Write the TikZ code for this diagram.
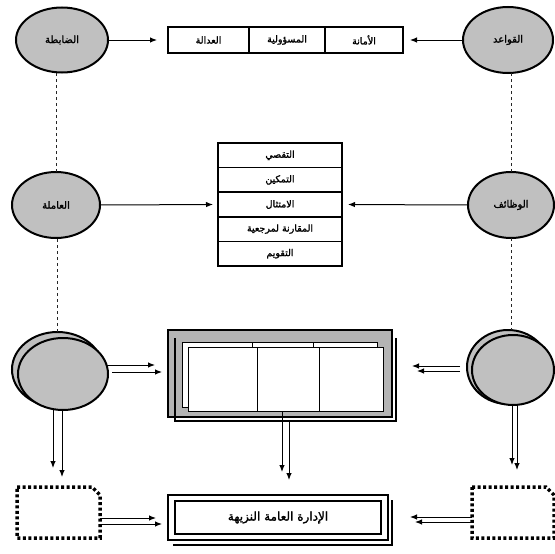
\documentclass[tikz,border=0pt]{standalone}
\usepackage{fontspec}
\usetikzlibrary{shapes.geometric,arrows.meta,calc}
\newfontfamily\ar[Script=Arabic, FakeBold=1.6]{DejaVu Sans}
\TeXXeTstate=1
\definecolor{ellgray}{RGB}{192,192,192}
\definecolor{boxgray}{RGB}{180,180,180}
\tikzset{
  ell/.style={ellipse, draw=black, line width=2pt, fill=ellgray, inner sep=0pt, outer sep=0pt,
    font=\ar\fontsize{10}{12}\selectfont},
  cell/.style={draw=black, line width=1.5pt, inner sep=0pt, outer sep=0pt, fill=white,
    font=\ar\fontsize{9.5}{11}\selectfont},
  arr/.style={-{Latex[length=7pt,width=5.5pt]}, line width=1pt, draw=black},
  dashline/.style={line width=0.9pt, dash pattern=on 3pt off 3pt, draw=black!85},
  dotbox/.style={line width=3.5pt, dash pattern=on 3pt off 2.5pt, draw=black},
  holder/.style={inner sep=0pt, outer sep=0pt}
}
\begin{document}
\begin{tikzpicture}[x=1pt,y=-1pt]
\useasboundingbox (0,0) rectangle (555,554);

% ---------- top row ----------
\node[ell, minimum width=92pt, minimum height=65pt] (e1) at (62,40) {\beginR الضابطة\endR};
\node[ell, minimum width=90pt, minimum height=66pt] (e2) at (508,40) {\beginR القواعد\endR};
\node[cell, minimum width=81pt, minimum height=26pt] (c1) at (208.5,40) {\beginR العدالة\endR};
\node[cell, minimum width=76pt, minimum height=26pt] (c2) at (287,40) {\beginR المسؤولية\endR};
\node[cell, minimum width=78pt, minimum height=26pt] (c3) at (364,40) {\beginR الأمانة\endR};
\draw[arr, shorten >=11pt] (e1.east) -- (c1.west);
\draw[arr, shorten >=7pt] (e2.west) -- (c3.east);

% ---------- middle row ----------
\node[ell, minimum width=88pt, minimum height=66pt] (e3) at (56,205) {\beginR العاملة\endR};
\node[ell, minimum width=86pt, minimum height=66pt] (e4) at (511,205) {\beginR الوظائف\endR};
\node[cell, minimum width=124pt, minimum height=24.6pt] (m1) at (280,155.3) {\beginR التقصي\endR};
\node[cell, minimum width=124pt, minimum height=24.6pt] (m2) at (280,179.9) {\beginR التمكين\endR};
\node[cell, minimum width=124pt, minimum height=24.6pt] (m3) at (280,204.5) {\beginR الامتثال\endR};
\node[cell, minimum width=124pt, minimum height=24.6pt] (m4) at (280,229.1) {\beginR المقارنة لمرجعية\endR};
\node[cell, minimum width=124pt, minimum height=24.6pt] (m5) at (280,253.7) {\beginR التقويم\endR};
\draw[arr, shorten >=5pt] (e3.east) -- (m3.west);
\draw[arr, shorten >=6pt] (e4.west) -- (m3.east);
\draw[dashline] (e3.north) -- (e3.north |- e1.south);
\draw[dashline] (e4.north) -- (e4.north |- e2.south);

% ---------- third row ----------
\node[ell, minimum width=91pt, minimum height=75pt] (e5b) at (57.5,369.5) {};
\node[ell, minimum width=90pt, minimum height=72pt] (e5) at (63,374) {};
\node[ell, minimum width=82pt, minimum height=74pt] (e6b) at (508,367) {};
\node[ell, minimum width=82pt, minimum height=70pt] (e6) at (513,370) {};
\draw[dashline] (e5b.north) -- (e5b.north |- e3.south);
\draw[dashline] (e4.south) -- (e4.south |- e6b.north);

\node[draw=black, line width=1.5pt, fill=boxgray, holder, minimum width=224pt, minimum height=87pt] (mid) at (280,373.5) {};
\draw[line width=2pt] ($(mid.north west)+(7,8)$) -- ($(mid.south west)+(7,4)$)
  -- ($(mid.south east)+(4,4)$) -- ($(mid.north east)+(4,8)$);
% inner white sheets
\draw[line width=0.8pt, fill=white] (182,342) rectangle (377,407);
\draw[line width=0.8pt] (252,342) -- (252,407) (313,342) -- (313,407);
\draw[line width=0.8pt, fill=white] (188,347) rectangle (383,411);
\draw[line width=0.8pt] (257,347) -- (257,411) (319,347) -- (319,411);

\draw[arr] ($(e5.east)+(-1,-9)$) -- ($(mid.west)+(-13,-8.5)$);
\draw[arr] ($(e5.east)+(4,-2)$) -- ($(mid.west)+(-6,-1.5)$);
\draw[arr] ($(e6.west)+(-12,-4)$) -- ($(mid.east)+(20,-7.5)$);
\draw[arr] ($(e6.west)+(-12,1)$) -- ($(mid.east)+(25,-2.5)$);

% ---------- bottom row ----------
\node[holder, minimum width=83pt, minimum height=51pt] (bl) at (58.5,512.5) {};
\node[holder, minimum width=82pt, minimum height=51pt] (br) at (513,512.5) {};
\draw[dotbox] (bl.north west) -- ($(bl.north east)+(-8,0)$) -- ($(bl.north east)+(0,8)$)
  -- (bl.south east) -- (bl.south west) -- cycle;
\draw[dotbox] (br.north west) -- ($(br.north east)+(-8,0)$) -- ($(br.north east)+(0,8)$)
  -- (br.south east) -- (br.south west) -- cycle;

\draw[line width=2pt] (173,545) -- (392,545) -- (392,500);
\node[draw=black, line width=2.5pt, fill=white, holder, minimum width=220pt, minimum height=45pt] (bb) at (278,517.5) {};
\draw[line width=1.5pt] (175,501) rectangle (381,534);
\node[font=\ar\fontsize{12}{14}\selectfont] (bbt) at (bb.center) {\beginR الإدارة العامة النزيهة\endR};

% vertical double arrows
\draw[arr] ($(e5.south)+(-10,0)$) -- ($(bl.north)+(-5.5,-19)$);
\draw[arr] ($(e5.south)+(-1,0)$) -- ($(bl.north)+(3.5,-10)$);
\draw[arr] ($(mid.south)+(2,-6)$) -- ($(bb.north)+(4,-23)$);
\draw[arr] ($(mid.south)+(9,3)$) -- ($(bb.north)+(11,-15)$);
\draw[arr] ($(e6.south)+(-1,0)$) -- ($(br.north)+(-1,-22)$);
\draw[arr] ($(e6.south)+(4,0)$) -- ($(br.north)+(4,-17)$);

% horizontal double arrows bottom
\draw[arr] ($(bl.east)+(0,5.5)$) -- ($(bb.west)+(-12,0.5)$);
\draw[arr] ($(bl.east)+(0,11.5)$) -- ($(bb.west)+(-6,6.5)$);
\draw[arr] ($(br.west)+(0,4.5)$) -- ($(bb.east)+(22,-0.5)$);
\draw[arr] ($(br.west)+(0,9.5)$) -- ($(bb.east)+(27,4.5)$);
\end{tikzpicture}
\end{document}
